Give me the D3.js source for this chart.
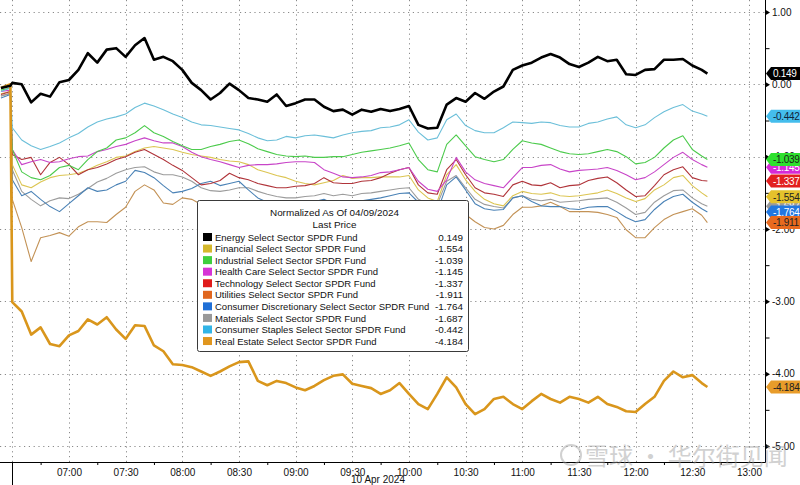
<!DOCTYPE html>
<html>
<head>
<meta charset="utf-8">
<script src="https://cdn.jsdelivr.net/npm/d3@7"></script>
<style>
body { margin: 0; background: #fff; }
svg { display: block; font-family: "Liberation Sans", Arial, sans-serif; }
</style>
</head>
<body>
<svg></svg>
<script>
// intraday times (10 Apr 2024)
var times = ["06:24","06:29",
  "06:30","06:35","06:40","06:45","06:50","06:55",
  "07:00","07:05","07:10","07:15","07:20","07:25","07:30","07:35","07:40","07:45","07:50","07:55",
  "08:00","08:05","08:10","08:15","08:20","08:25","08:30","08:35","08:40","08:45","08:50","08:55",
  "09:00","09:05","09:10","09:15","09:20","09:25","09:30","09:35","09:40","09:45","09:50","09:55",
  "10:00","10:05","10:10","10:15","10:20","10:25","10:30","10:35","10:40","10:45","10:50","10:55",
  "11:00","11:05","11:10","11:15","11:20","11:25","11:30","11:35","11:40","11:45","11:50","11:55",
  "12:00","12:05","12:10","12:15","12:20","12:25","12:30","12:35","12:38"];

var energy = [-0.05,-0.02,
  0.02,0.00,-0.25,-0.13,-0.17,0.03,
  0.06,0.20,0.43,0.30,0.48,0.50,0.38,0.54,0.64,0.34,0.38,0.32,
  0.20,0.02,-0.08,-0.21,-0.12,0.01,-0.08,-0.19,-0.21,-0.24,-0.14,-0.30,
  -0.26,-0.21,-0.21,-0.31,-0.37,-0.35,-0.42,-0.35,-0.38,-0.34,-0.37,-0.34,
  -0.30,-0.56,-0.61,-0.60,-0.28,-0.19,-0.24,-0.12,-0.20,-0.10,-0.03,0.20,
  0.26,0.30,0.37,0.42,0.37,0.28,0.24,0.30,0.38,0.32,0.34,0.14,
  0.13,0.20,0.21,0.34,0.34,0.35,0.26,0.20,0.149];

var financial = [-0.13,-0.10,
  -1.11,-1.39,-1.43,-1.35,-1.29,-1.26,
  -1.25,-1.23,-1.18,-1.12,-1.07,-1.01,-0.99,-0.93,-0.88,-0.86,-0.88,-0.90,
  -0.94,-0.97,-0.99,-1.01,-1.04,-1.06,-1.07,-1.11,-1.18,-1.22,-1.26,-1.29,
  -1.34,-1.37,-1.39,-1.36,-1.33,-1.26,-1.30,-1.29,-1.29,-1.28,-1.28,-1.28,
  -1.26,-1.46,-1.57,-1.62,-1.25,-1.11,-1.32,-1.48,-1.59,-1.65,-1.68,-1.54,
  -1.48,-1.51,-1.52,-1.50,-1.54,-1.55,-1.54,-1.52,-1.50,-1.46,-1.51,-1.57,
  -1.62,-1.58,-1.46,-1.39,-1.29,-1.26,-1.40,-1.50,-1.554];

var industrial = [-0.08,-0.05,
  -0.90,-1.21,-1.29,-1.32,-1.26,-1.15,
  -1.12,-1.18,-1.04,-0.93,-0.88,-0.77,-0.74,-0.67,-0.57,-0.67,-0.72,-0.79,
  -0.85,-0.90,-0.90,-0.86,-0.83,-0.79,-0.77,-0.82,-0.89,-0.93,-0.97,-0.99,
  -1.00,-0.99,-1.01,-1.01,-1.00,-1.00,-0.97,-0.94,-0.92,-0.90,-0.88,-0.85,
  -0.81,-1.04,-1.18,-1.21,-0.83,-0.70,-0.85,-1.00,-1.04,-1.07,-1.04,-0.90,
  -0.78,-0.81,-0.83,-0.88,-0.93,-0.96,-0.97,-0.96,-0.93,-0.90,-0.93,-1.00,
  -1.10,-1.08,-1.01,-0.88,-0.77,-0.71,-0.90,-0.99,-1.039];

var healthCare = [-0.10,-0.08,
  -0.90,-1.11,-1.07,-1.04,-1.08,-1.07,
  -1.03,-1.00,-0.99,-0.93,-0.90,-0.86,-0.83,-0.78,-0.74,-0.78,-0.81,-0.81,
  -0.86,-0.94,-1.00,-1.04,-1.07,-1.11,-1.15,-1.12,-1.11,-1.11,-1.10,-1.08,
  -1.07,-1.07,-1.08,-1.18,-1.23,-1.28,-1.29,-1.28,-1.26,-1.22,-1.21,-1.18,
  -1.15,-1.34,-1.45,-1.48,-1.32,-1.01,-1.21,-1.32,-1.37,-1.40,-1.43,-1.29,
  -1.15,-1.15,-1.12,-1.11,-1.17,-1.21,-1.19,-1.18,-1.17,-1.15,-1.19,-1.25,
  -1.32,-1.29,-1.21,-1.11,-1.01,-0.94,-1.04,-1.11,-1.145];

var technology = [-0.14,-0.10,
  -0.97,-1.04,-1.01,-1.25,-1.08,-1.01,
  -1.11,-1.25,-1.18,-1.15,-1.10,-1.04,-1.00,-0.94,-0.90,-0.97,-1.04,-1.12,
  -1.19,-1.29,-1.39,-1.37,-1.33,-1.23,-1.29,-1.32,-1.37,-1.40,-1.43,-1.43,
  -1.41,-1.40,-1.37,-1.29,-1.36,-1.37,-1.37,-1.34,-1.33,-1.29,-1.23,-1.18,
  -1.15,-1.39,-1.50,-1.52,-1.18,-1.04,-1.25,-1.43,-1.50,-1.52,-1.55,-1.39,
  -1.34,-1.39,-1.40,-1.36,-1.43,-1.40,-1.39,-1.33,-1.30,-1.28,-1.36,-1.46,
  -1.55,-1.54,-1.40,-1.25,-1.18,-1.14,-1.29,-1.33,-1.337];

var utilities = [-0.16,-0.12,
  -1.59,-1.98,-2.45,-2.12,-2.09,-2.05,
  -2.10,-1.97,-1.90,-1.90,-1.91,-1.80,-1.70,-1.48,-1.39,-1.46,-1.64,-1.66,
  -1.57,-1.59,-1.66,-1.73,-1.76,-1.73,-1.79,-1.84,-1.90,-1.94,-1.95,-1.98,
  -1.98,-1.98,-2.00,-1.98,-2.02,-2.05,-2.08,-2.10,-2.12,-2.15,-2.18,-2.15,
  -2.20,-2.22,-2.12,-2.00,-1.80,-1.72,-1.80,-1.90,-1.98,-2.00,-1.95,-1.80,
  -1.70,-1.70,-1.68,-1.63,-1.69,-1.76,-1.76,-1.76,-1.77,-1.80,-1.84,-2.01,
  -2.12,-2.12,-1.98,-1.87,-1.80,-1.76,-1.72,-1.81,-1.911];

var discretionary = [-0.19,-0.14,
  -1.32,-1.54,-1.48,-1.59,-1.69,-1.76,
  -1.65,-1.54,-1.43,-1.48,-1.46,-1.39,-1.34,-1.19,-1.22,-1.29,-1.40,-1.50,
  -1.48,-1.44,-1.37,-1.34,-1.40,-1.37,-1.34,-1.46,-1.57,-1.63,-1.65,-1.68,
  -1.66,-1.64,-1.62,-1.59,-1.65,-1.64,-1.64,-1.61,-1.59,-1.57,-1.54,-1.51,
  -1.50,-1.63,-1.73,-1.76,-1.39,-1.28,-1.46,-1.65,-1.72,-1.74,-1.73,-1.57,
  -1.54,-1.62,-1.68,-1.69,-1.69,-1.72,-1.73,-1.70,-1.69,-1.69,-1.76,-1.84,
  -1.90,-1.87,-1.73,-1.62,-1.55,-1.52,-1.63,-1.72,-1.764];

var materials = [-0.16,-0.13,
  -1.18,-1.48,-1.59,-1.68,-1.61,-1.57,
  -1.58,-1.52,-1.44,-1.35,-1.30,-1.23,-1.18,-1.15,-1.14,-1.21,-1.25,-1.25,
  -1.28,-1.34,-1.43,-1.47,-1.48,-1.46,-1.43,-1.43,-1.48,-1.52,-1.55,-1.57,
  -1.57,-1.55,-1.54,-1.51,-1.54,-1.52,-1.54,-1.51,-1.50,-1.48,-1.46,-1.44,
  -1.43,-1.59,-1.65,-1.66,-1.34,-1.26,-1.43,-1.59,-1.66,-1.69,-1.71,-1.57,
  -1.54,-1.59,-1.61,-1.59,-1.63,-1.62,-1.61,-1.59,-1.58,-1.57,-1.63,-1.71,
  -1.80,-1.77,-1.63,-1.54,-1.47,-1.46,-1.57,-1.65,-1.687];

var staples = [-0.10,-0.05,
  -0.60,-0.77,-0.85,-0.90,-0.86,-0.81,
  -0.74,-0.68,-0.59,-0.52,-0.48,-0.45,-0.41,-0.32,-0.26,-0.30,-0.35,-0.41,
  -0.46,-0.52,-0.56,-0.57,-0.59,-0.61,-0.63,-0.68,-0.74,-0.78,-0.77,-0.72,
  -0.74,-0.71,-0.70,-0.72,-0.74,-0.70,-0.67,-0.65,-0.64,-0.60,-0.59,-0.56,
  -0.49,-0.66,-0.77,-0.74,-0.49,-0.41,-0.57,-0.64,-0.67,-0.67,-0.60,-0.52,
  -0.53,-0.54,-0.52,-0.53,-0.57,-0.59,-0.59,-0.54,-0.52,-0.48,-0.45,-0.56,
  -0.60,-0.56,-0.46,-0.38,-0.32,-0.28,-0.37,-0.41,-0.442];

var realEstate = [-0.05,0.00,
  -3.01,-3.14,-3.46,-3.36,-3.59,-3.62,
  -3.47,-3.41,-3.25,-3.32,-3.22,-3.39,-3.52,-3.33,-3.34,-3.61,-3.69,-3.87,
  -3.88,-3.91,-3.97,-4.03,-3.97,-3.90,-3.84,-3.83,-4.10,-4.16,-4.10,-4.13,
  -4.19,-4.23,-4.17,-4.09,-4.03,-4.01,-4.14,-4.17,-4.20,-4.28,-4.23,-4.13,
  -4.28,-4.42,-4.49,-4.28,-4.05,-4.19,-4.42,-4.56,-4.49,-4.35,-4.32,-4.42,
  -4.49,-4.38,-4.28,-4.35,-4.40,-4.32,-4.35,-4.40,-4.32,-4.42,-4.46,-4.52,
  -4.53,-4.42,-4.32,-4.10,-3.97,-4.05,-4.02,-4.13,-4.184];

// legend rows, in legend order
var names = ["Energy Select Sector SPDR Fund","Financial Select Sector SPDR Fund",
  "Industrial Select Sector SPDR Fund","Health Care Select Sector SPDR Fund",
  "Technology Select Sector SPDR Fund","Utilities Select Sector SPDR Fund",
  "Consumer Discretionary Select Sector SPDR Fund","Materials Select Sector SPDR Fund",
  "Consumer Staples Select Sector SPDR Fund","Real Estate Select Sector SPDR Fund"];
var lastPrices = [0.149,-1.554,-1.039,-1.145,-1.337,-1.911,-1.764,-1.687,-0.442,-4.184];
var seriesValues = [energy,financial,industrial,healthCare,technology,utilities,discretionary,materials,staples,realEstate];

var yTicks = [1,0,-1,-2,-3,-4,-5];
var yMinorTicks = [0.5,-0.5,-1.5,-2.5,-3.5,-4.5];
var xLabelTimes = ["07:00","07:30","08:00","08:30","09:00","09:30","10:00","10:30","11:00","11:30","12:00","12:30","13:00"];
var xGridTimes = ["06:30"].concat(xLabelTimes);
var xMinorTimes = ["06:45","07:15","07:45","08:15","08:45","09:15","09:45","10:15","10:45","11:15","11:45","12:15","12:45"];

// styling per series (legend order)
var lineColors = ["#000000","#dcc552","#4ccb4c","#c845c8","#b0343a","#c39256","#4a82b6","#9c9c9c","#6bbfd9","#d9961c"];
var lineWidths = [2.6,1.1,1.1,1.1,1.1,1.1,1.1,1.1,1.1,2.6];
var swatchColors = ["#000000","#d4b82c","#3ecf3e","#d633d6","#e01b1b","#e0661e","#1f6fd6","#999999","#32b4e6","#e0961e"];
var tagFills = ["#000000","#e5c22c","#2ee02e","#d62ad6","#e21f1f","#e86a1e","#2277e0","#9a9a9a","#44bdec","#e89c2a"];
var tagTexts = ["#ffffff","#222222","#1a1a1a","#ffffff","#ffffff","#222222","#ffffff","#ffffff","#10243a","#222222"];
var drawOrder = [5,7,6,1,4,3,2,8,9,0];
var tagOrder = [7,3,0,8,2,4,1,6,5,9];

var screen = {width:800, height:485};
var plot = {left:0, right:765, top:0, bottom:462};

var parseTime = d3.timeParse("%H:%M");
var dates = times.map(parseTime);

var svg = d3.select("svg")
    .attr("width",screen.width)
    .attr("height",screen.height);

var xScale = d3.scaleTime()
    .domain([new Date(1900,0,1,6,23,30), new Date(1900,0,1,13,8,30)])
    .range([plot.left, plot.right]);

var yScale = d3.scaleLinear()
    .domain([1,-5])
    .range([12,446]);

//dotted grid
var grid = svg.append("g").classed("grid",true)
    .attr("stroke","#8a8a8a")
    .attr("stroke-width",1)
    .attr("stroke-dasharray","1.2,3.6");

grid.selectAll("line.h")
    .data(yTicks)
    .enter()
    .append("line")
    .attr("x1",plot.left)
    .attr("x2",plot.right)
    .attr("y1",function(d){ return Math.round(yScale(d))+0.5; })
    .attr("y2",function(d){ return Math.round(yScale(d))+0.5; });

grid.selectAll("line.v")
    .data(xGridTimes.map(parseTime))
    .enter()
    .append("line")
    .attr("x1",function(d){ return Math.round(xScale(d))+0.5; })
    .attr("x2",function(d){ return Math.round(xScale(d))+0.5; })
    .attr("y1",plot.top)
    .attr("y2",plot.bottom);

//lines
var lineGenerator = d3.line()
    .x(function(v,i){ return xScale(dates[i]); })
    .y(function(v){ return yScale(v); });

svg.append("g")
    .classed("graph",true)
    .selectAll("path")
    .data(drawOrder)
    .enter()
    .append("path")
    .attr("fill","none")
    .attr("stroke",function(k){ return lineColors[k]; })
    .attr("stroke-width",function(k){ return lineWidths[k]; })
    .attr("stroke-linejoin","round")
    .attr("d",function(k){ return lineGenerator(seriesValues[k]); });

//legend
var legend = svg.append("g").classed("legend",true);
var box = {x:197, y:200, w:271, h:151};

legend.append("rect")
    .attr("x",box.x+0.5)
    .attr("y",box.y+0.5)
    .attr("width",box.w)
    .attr("height",box.h)
    .attr("rx",2)
    .attr("fill","#fff")
    .attr("stroke","#3a3a3a");

legend.append("text")
    .text("Normalized As Of 04/09/2024")
    .attr("x",box.x+box.w/2+2)
    .attr("y",box.y+16)
    .attr("text-anchor","middle")
    .attr("font-size","9.9px")
    .attr("fill","#111");

legend.append("text")
    .text("Last Price")
    .attr("x",box.x+box.w/2+2)
    .attr("y",box.y+28)
    .attr("text-anchor","middle")
    .attr("font-size","9.9px")
    .attr("fill","#111");

var rows = legend.selectAll("g.row")
    .data(names)
    .enter()
    .append("g")
    .attr("transform",function(d,i){ return "translate(0,"+(237+i*11.56)+")"; });

rows.append("rect")
    .attr("x",203)
    .attr("y",-4)
    .attr("width",9)
    .attr("height",8)
    .attr("fill",function(d,i){ return swatchColors[i]; });

rows.append("text")
    .text(function(d){ return d; })
    .attr("x",215)
    .attr("y",3.6)
    .attr("font-size","9.5px")
    .attr("fill","#111");

rows.append("text")
    .text(function(d,i){ return lastPrices[i].toFixed(3); })
    .attr("x",463)
    .attr("y",3.6)
    .attr("text-anchor","end")
    .attr("font-size","9.9px")
    .attr("fill","#111");

//axes
var xAxis = d3.axisBottom(xScale)
    .tickValues(xLabelTimes.map(parseTime))
    .tickSize(0)
    .tickPadding(7)
    .tickFormat(d3.timeFormat("%H:%M"));

var xMinor = d3.axisBottom(xScale)
    .tickValues(xMinorTimes.map(parseTime))
    .tickSize(3)
    .tickFormat("");

var axes = svg.append("g").classed("axes",true);

axes.append("g")
    .attr("transform","translate(0,"+plot.bottom+")")
    .call(xAxis)
    .call(function(g){ g.select(".domain").remove(); })
    .selectAll("text")
    .attr("font-size","10px")
    .attr("fill","#111")
    .attr("font-family","Liberation Sans, Arial, sans-serif");

axes.append("g")
    .attr("transform","translate(0,"+plot.bottom+")")
    .call(xMinor)
    .call(function(g){ g.select(".domain").remove(); })
    .selectAll("line")
    .attr("stroke","#000");

axes.append("line")
    .attr("x1",0).attr("x2",plot.right+0.5)
    .attr("y1",plot.bottom+0.5).attr("y2",plot.bottom+0.5)
    .attr("stroke","#000");

axes.append("line")
    .attr("x1",plot.right+0.5).attr("x2",plot.right+0.5)
    .attr("y1",0).attr("y2",plot.bottom+0.5)
    .attr("stroke","#000");

// day separator below the axis
axes.append("line")
    .attr("x1",Math.round(xScale(parseTime("06:30")))+0.5)
    .attr("x2",Math.round(xScale(parseTime("06:30")))+0.5)
    .attr("y1",plot.bottom)
    .attr("y2",screen.height)
    .attr("stroke","#000");

axes.append("text")
    .text("10 Apr 2024")
    .attr("x",378)
    .attr("y",483)
    .attr("text-anchor","middle")
    .attr("font-size","10px")
    .attr("fill","#111");

var yAxis = d3.axisRight(yScale)
    .tickValues(yTicks)
    .tickSize(0)
    .tickPadding(7)
    .tickFormat(function(d){ return d.toFixed(2); });

var yMinor = d3.axisRight(yScale)
    .tickValues(yMinorTicks)
    .tickSize(4)
    .tickFormat("");

var yg = axes.append("g")
    .attr("transform","translate("+plot.right+",0)")
    .call(yAxis)
    .call(function(g){ g.select(".domain").remove(); });

yg.selectAll("text")
    .attr("font-size","10px")
    .attr("fill","#111")
    .attr("font-family","Liberation Sans, Arial, sans-serif");

yg.selectAll(".tick")
    .append("path")
    .attr("d","M0,-3L5,0L0,3Z")
    .attr("fill","#000");

axes.append("g")
    .attr("transform","translate("+(plot.right+0.5)+",0)")
    .call(yMinor)
    .call(function(g){ g.select(".domain").remove(); })
    .selectAll("line")
    .attr("stroke","#000");

//last value tags on the right axis
var tags = svg.append("g").classed("tags",true)
    .selectAll("g")
    .data(tagOrder)
    .enter()
    .append("g")
    .attr("transform",function(k){ return "translate(0,"+yScale(lastPrices[k])+")"; });

tags.append("path")
    .attr("d","M766,0L771,-6.5L806,-6.5L806,6.5L771,6.5Z")
    .attr("fill",function(k){ return tagFills[k]; });

tags.append("text")
    .text(function(k){ return lastPrices[k].toFixed(3); })
    .attr("x",773)
    .attr("y",3.8)
    .attr("font-size","10px")
    .attr("letter-spacing","-0.3px")
    .attr("fill",function(k){ return tagTexts[k]; });

//watermark
var mark = svg.append("g").attr("opacity",0.45);
mark.append("circle")
    .attr("cx",571).attr("cy",455).attr("r",10)
    .attr("fill","none").attr("stroke","#9a9a9a").attr("stroke-width",2);
mark.append("text")
    .text("雪球 · 华尔街见闻")
    .attr("x",585)
    .attr("y",465)
    .attr("font-size","24px")
    .attr("font-family","Noto Sans CJK SC, sans-serif")
    .attr("fill","#9a9a9a");
</script>
</body>
</html>
